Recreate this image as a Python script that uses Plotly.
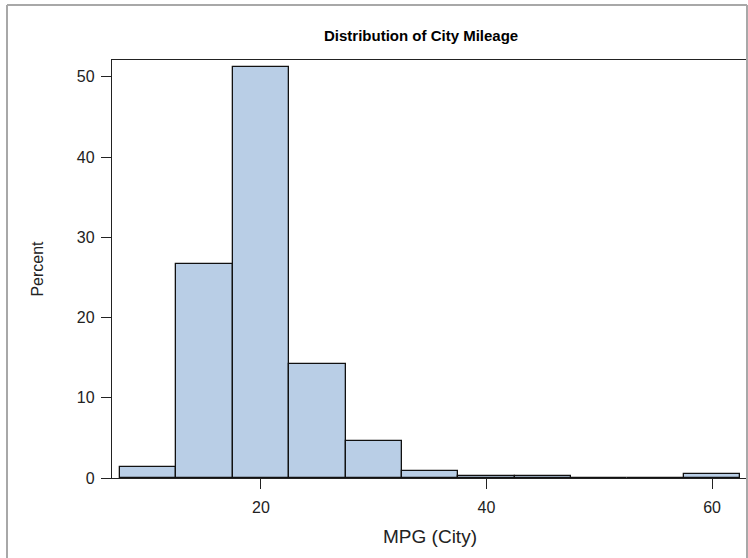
import plotly.graph_objects as go

# histogram of city MPG, bins of width 5
bin_centers = [10, 15, 20, 25, 30, 35, 40, 45, 50, 55, 60]
percent = [1.40, 26.64, 51.17, 14.25, 4.67, 0.93, 0.23, 0.23, 0.0, 0.0, 0.47]
x_ticks = [20, 40, 60]
y_ticks = [0, 10, 20, 30, 40, 50]

W, H = 748, 558
L, R, T, B = 112, 0, 60, 80
pw, ph = W - L - R, H - T - B

def px(p):  # pixel x -> paper x
    return (p - L) / pw

def py(p):  # pixel y -> paper y
    return (H - B - p) / ph

font = "Liberation Sans, Arial, sans-serif"

fig = go.Figure()
fig.add_trace(go.Bar(x=bin_centers, y=percent, width=5,
                     marker=dict(color='#B9CEE6', line=dict(color='#111111', width=1.3)),
                     showlegend=False))

fig.update_layout(
    width=W, height=H,
    margin=dict(l=L, r=R, t=T, b=B, autoexpand=False),
    plot_bgcolor='white', paper_bgcolor='white',
    bargap=0,
    font=dict(family=font, size=16, color='#222222'),
    xaxis=dict(range=[6.79, 63.19], tickvals=x_ticks, ticks='outside', ticklen=10,
               tickcolor='#222222', showline=True, linecolor='#222222', linewidth=1.3,
               mirror=True, showgrid=False, zeroline=False, ticklabelstandoff=5,
               tickfont=dict(size=16),
               title=dict(text='MPG (City)', standoff=14, font=dict(size=19))),
    yaxis=dict(range=[0, 52.1], tickvals=y_ticks, ticks='outside', ticklen=10,
               tickcolor='#222222', showline=True, linecolor='#222222', linewidth=1.3,
               mirror=False, showgrid=False, zeroline=False, ticklabelstandoff=3,
               tickfont=dict(size=16),
               title=dict(text='Percent', standoff=29, font=dict(size=16))),
)

# title
fig.add_annotation(xref='paper', yref='paper', x=px(421), y=py(36),
                   xanchor='center', yanchor='middle', showarrow=False,
                   text='<b>Distribution of City Mileage</b>',
                   font=dict(family=font, size=15, color='#000000'))

# outer grey border of the graph
border = dict(color='#A8A8A8', width=2)
fig.add_shape(type='line', xref='paper', yref='paper', x0=px(7), x1=px(7), y0=py(5), y1=py(560), line=border)
fig.add_shape(type='line', xref='paper', yref='paper', x0=px(7), x1=px(747), y0=py(5), y1=py(5), line=border)
fig.add_shape(type='line', xref='paper', yref='paper', x0=px(747), x1=px(747), y0=py(5), y1=py(560), line=border)

# page body has a default 8px margin; remove it so the figure sits at the window origin
fig.write_html("out.html", config={'displayModeBar': False},
               post_script="document.body.style.margin='0';document.body.style.overflow='hidden';")
